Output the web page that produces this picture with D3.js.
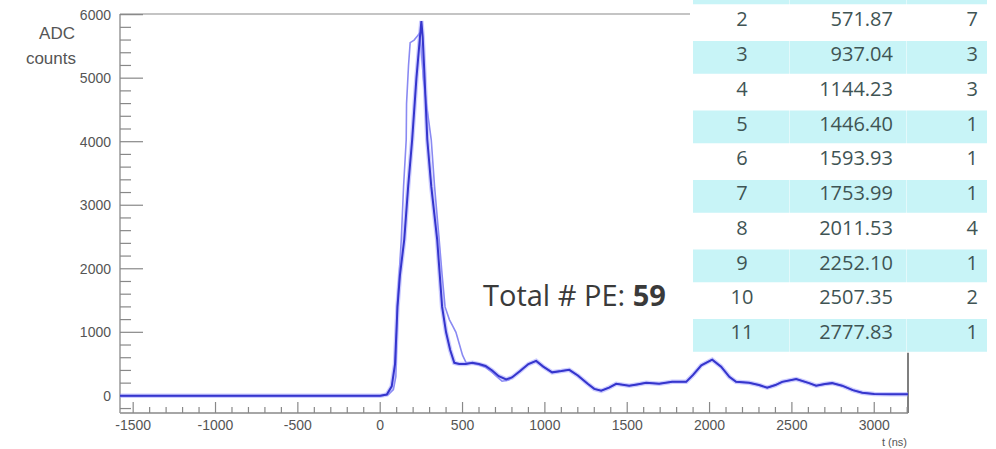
<!DOCTYPE html>
<html><head><meta charset="utf-8">
<script src="https://cdn.jsdelivr.net/npm/d3@7"></script>
<style>html,body{margin:0;padding:0;background:#fff;}svg{display:block;}</style>
</head><body>
<svg id="chart" width="996" height="449"></svg>
<script>
// ---- data ----
const xTickLabels = [-1500, -1000, -500, 0, 500, 1000, 1500, 2000, 2500, 3000];
const yTickLabels = [0, 1000, 2000, 3000, 4000, 5000, 6000];

// solid (reconstructed) waveform
const darkT = [-1580, 0, 40, 70, 90, 105, 120, 146, 170, 194, 220, 240, 250, 258, 268, 286, 310, 346, 376, 400, 425, 450, 480, 520, 560, 600, 640, 680, 720, 765, 800, 850, 900, 947, 990, 1044, 1100, 1148, 1200, 1260, 1300, 1342, 1390, 1433, 1512, 1560, 1615, 1694, 1773, 1858, 1900, 1950, 2016, 2070, 2120, 2161, 2240, 2300, 2350, 2400, 2441, 2526, 2605, 2647, 2700, 2744, 2805, 2870, 2927, 3000, 3100, 3205];
const darkV = [0, 0, 20, 150, 500, 1400, 1900, 2460, 3300, 4030, 5000, 5600, 5900, 5650, 5100, 4030, 3300, 2460, 1400, 1000, 720, 520, 500, 500, 520, 500, 470, 400, 310, 260, 290, 390, 500, 550, 460, 370, 390, 410, 320, 190, 110, 80, 130, 190, 160, 180, 205, 190, 220, 220, 330, 480, 570, 460, 300, 220, 205, 170, 130, 170, 220, 265, 200, 160, 185, 200, 160, 90, 50, 30, 25, 25];

// raw waveform
const lightT = [-1580, 0, 50, 80, 95, 103, 115, 128, 142, 158, 160, 172, 182, 206, 222, 236, 248, 262, 280, 296, 310, 330, 358, 376, 394, 420, 440, 460, 480, 500, 522, 560, 600, 640, 680, 710, 740, 780, 820, 860, 900, 947, 990, 1044, 1100, 1148, 1200, 1260, 1300, 1342, 1390, 1433, 1512, 1560, 1615, 1694, 1773, 1858, 1900, 1950, 2016, 2070, 2120, 2161, 2240, 2300, 2350, 2400, 2441, 2526, 2605, 2647, 2700, 2744, 2805, 2870, 2927, 3000, 3100, 3205];
const lightV = [0, 0, 20, 100, 300, 1400, 1900, 2460, 3300, 4030, 4600, 5200, 5560, 5600, 5650, 5700, 5500, 5000, 4600, 4300, 4030, 3300, 2460, 1900, 1400, 1200, 1100, 1000, 820, 640, 520, 510, 490, 450, 370, 300, 230, 250, 330, 420, 500, 550, 460, 370, 390, 410, 320, 190, 110, 80, 130, 190, 160, 180, 205, 190, 220, 220, 330, 480, 570, 460, 300, 220, 205, 170, 130, 170, 220, 265, 200, 160, 185, 200, 160, 90, 50, 30, 25, 25];

// PE table
const peIndex = [2, 3, 4, 5, 6, 7, 8, 9, 10, 11];
const peTime = ["571.87", "937.04", "1144.23", "1446.40", "1593.93", "1753.99", "2011.53", "2252.10", "2507.35", "2777.83"];
const peCount = [7, 3, 3, 1, 1, 1, 4, 1, 2, 1];
const totalPE = 59;

// ---- drawing ----
const svg = d3.select("#chart");
const L = 120, R = 908, T = 14, B = 413;
const x = d3.scaleLinear().domain([-1580, 3205]).range([L, R]);
const y = d3.scaleLinear().domain([-270, 6010]).range([B, T]);

// frame
svg.append("line").attr("x1", L).attr("x2", R).attr("y1", T).attr("y2", T).attr("stroke", "#b0b0b0").attr("stroke-width", 1.5);
svg.append("line").attr("x1", R).attr("x2", R).attr("y1", T).attr("y2", B).attr("stroke", "#555").attr("stroke-width", 1.5);
svg.append("line").attr("x1", L).attr("x2", R).attr("y1", B).attr("y2", B).attr("stroke", "#888").attr("stroke-width", 1.5);
svg.append("line").attr("x1", L).attr("x2", L).attr("y1", T).attr("y2", B).attr("stroke", "#999").attr("stroke-width", 1.5);

// x ticks
const xMinor = d3.range(-1500, 3201, 100).filter(v => v % 500 !== 0);
const gTicks = svg.append("g").attr("stroke", "#888").attr("stroke-width", 1.2);
xTickLabels.forEach(v => gTicks.append("line").attr("x1", x(v)).attr("x2", x(v)).attr("y1", B).attr("y2", B - 11));
xMinor.forEach(v => gTicks.append("line").attr("x1", x(v)).attr("x2", x(v)).attr("y1", B).attr("y2", B - 6));
// y ticks
const yMinor = d3.range(-200, 6001, 200).filter(v => v % 1000 !== 0);
yTickLabels.forEach(v => gTicks.append("line").attr("x1", L).attr("x2", L + 23).attr("y1", y(v)).attr("y2", y(v)));
yMinor.forEach(v => gTicks.append("line").attr("x1", L).attr("x2", L + 11).attr("y1", y(v)).attr("y2", y(v)));

// tick labels
const lblFont = "'Liberation Sans', Arial, sans-serif";
svg.append("g").selectAll("text").data(xTickLabels).join("text")
  .attr("x", d => x(d)).attr("y", 430).attr("text-anchor", "middle")
  .attr("font-family", lblFont).attr("font-size", 14).attr("fill", "#555").text(d => d);
svg.append("g").selectAll("text").data(yTickLabels).join("text")
  .attr("x", 111).attr("y", d => y(d) + 5).attr("text-anchor", "end")
  .attr("font-family", lblFont).attr("font-size", 14).attr("fill", "#555").text(d => d);

// axis titles
svg.append("text").attr("x", 75).attr("y", 39).attr("text-anchor", "end")
  .attr("font-family", lblFont).attr("font-size", 17).attr("fill", "#555").text("ADC");
svg.append("text").attr("x", 76).attr("y", 64).attr("text-anchor", "end")
  .attr("font-family", lblFont).attr("font-size", 17).attr("fill", "#555").text("counts");
svg.append("text").attr("x", 907).attr("y", 446).attr("text-anchor", "end")
  .attr("font-family", lblFont).attr("font-size", 11).attr("fill", "#555").text("t (ns)");

// curves
const lightData = lightT.map((t, i) => [t, lightV[i]]);
const darkData = darkT.map((t, i) => [t, darkV[i]]);
const line = d3.line().x(d => x(d[0])).y(d => y(d[1])).curve(d3.curveLinear);
svg.append("path").datum(lightData).attr("d", line).attr("fill", "none")
  .attr("stroke", "#8a8af2").attr("stroke-width", 1.6);
svg.append("path").datum(darkData).attr("d", line).attr("fill", "none")
  .attr("stroke", "#9a9aff").attr("stroke-width", 4.5).attr("stroke-opacity", 0.5);
svg.append("path").datum(darkData).attr("d", line).attr("fill", "none")
  .attr("stroke", "#3535cc").attr("stroke-width", 2);

// total PE text
const tot = svg.append("text").attr("x", 483).attr("y", 306)
  .attr("font-family", "'Open Sans', sans-serif").attr("font-size", 29).attr("fill", "#3a3a3a");
tot.append("tspan").text("Total # PE: ");
tot.append("tspan").attr("font-weight", "bold").text(totalPE);

// table
const rowH = 34.75, row2Top = 5.25;
const cells = [[693, 789], [789.5, 906.5], [907, 987]];
const tbl = svg.append("g");
tbl.append("rect").attr("x", 690).attr("y", 0).attr("width", 306).attr("height", row2Top + peIndex.length * rowH).attr("fill", "#fff");
// header row (row 1), only its lower edge is visible
cells.forEach(c => tbl.append("rect").attr("x", c[0]).attr("y", 0).attr("width", c[1] - c[0]).attr("height", row2Top - 1).attr("fill", "#c8f4f7"));
const f = "'Open Sans', sans-serif";
peIndex.forEach((k, i) => {
  const top = row2Top + i * rowH;
  if (k % 2 === 1) {
    cells.forEach(c => tbl.append("rect").attr("x", c[0]).attr("y", top + 1).attr("width", c[1] - c[0]).attr("height", rowH - 2).attr("fill", "#c8f4f7"));
  }
  tbl.append("text").attr("x", 742).attr("y", top + 21).attr("text-anchor", "middle").attr("font-family", f).attr("font-size", 20).attr("fill", "#3f5454").text(k);
  tbl.append("text").attr("x", 893).attr("y", top + 21).attr("text-anchor", "end").attr("font-family", f).attr("font-size", 20).attr("fill", "#3f5454").text(peTime[i]);
  tbl.append("text").attr("x", 978).attr("y", top + 21).attr("text-anchor", "end").attr("font-family", f).attr("font-size", 20).attr("fill", "#3f5454").text(peCount[i]);
});
</script>
</body></html>
